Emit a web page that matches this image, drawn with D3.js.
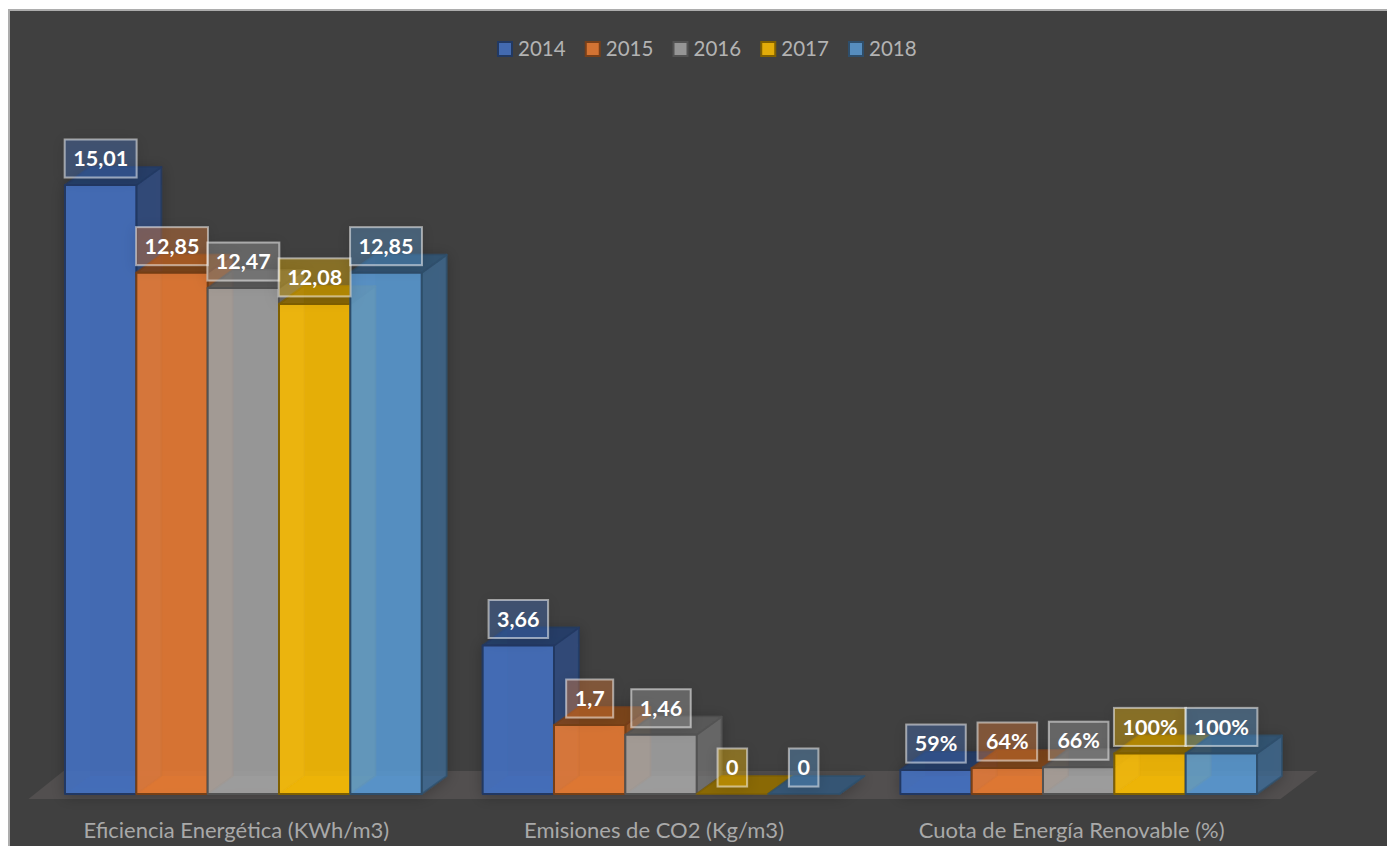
<!DOCTYPE html>
<meta charset="utf-8">
<style>
    html, body { margin: 0; padding: 0; background: #fff; overflow: hidden; }
    text { font-family: Lato, "Open Sans", sans-serif; }
</style>

<script src="https://d3js.org/d3.v7.min.js"></script>

<div id="my_dataviz"></div>

<script>

    // data
    const categories = ["Eficiencia Energética (KWh/m3)", "Emisiones de CO2 (Kg/m3)", "Cuota de Energía Renovable (%)"];
    const years = ["2014", "2015", "2016", "2017", "2018"];
    const eficiencia = [15.01, 12.85, 12.47, 12.08, 12.85];
    const emisiones = [3.66, 1.7, 1.46, 0, 0];
    const cuota = [0.59, 0.64, 0.66, 1, 1];
    const eficienciaLabels = ["15,01", "12,85", "12,47", "12,08", "12,85"];
    const emisionesLabels = ["3,66", "1,7", "1,46", "0", "0"];
    const cuotaLabels = ["59%", "64%", "66%", "100%", "100%"];
    const colors = ["#4472c4", "#ed7d31", "#a5a5a5", "#ffc000", "#5b9bd5"];

    const values = [eficiencia, emisiones, cuota];
    const labels = [eficienciaLabels, emisionesLabels, cuotaLabels];

    var width = 1387, height = 846;
    // oblique depth of the fake 3d bars
    var depthX = 25, depthY = 18;

    var svg = d3.select("#my_dataviz")
        .append("svg")
        .attr("width", width)
        .attr("height", height)
        .style("display", "block");

    var defs = svg.append("defs");
    var shadow = defs.append("filter").attr("id", "soft")
        .attr("x", "-40%").attr("y", "-40%").attr("width", "180%").attr("height", "180%");
    shadow.append("feDropShadow")
        .attr("dx", 0).attr("dy", 2).attr("stdDeviation", 7)
        .attr("flood-color", "#000").attr("flood-opacity", 0.28);

    // chart area
    svg.append("rect")
        .attr("x", 9).attr("y", 10)
        .attr("width", width).attr("height", height)
        .attr("fill", "#404040")
        .attr("stroke", "#adadad")
        .attr("stroke-width", 2);

    var x = d3.scaleBand()
        .domain(categories)
        .range([34.5, 1287.5])
        .paddingInner(0.146)
        .paddingOuter(0.073);

    var xYear = d3.scaleBand()
        .domain(years)
        .range([0, x.bandwidth()]);

    var y = d3.scaleLinear()
        .domain([0, d3.max(eficiencia)])
        .range([794, 185]);

    function shade(c, k) {
        var r = d3.rgb(c);
        return d3.rgb(r.r * k, r.g * k, r.b * k).formatHex();
    }

    var line = d3.line().curve(d3.curveLinearClosed);

    // floor
    svg.append("path")
        .attr("fill", "#524f4f")
        .attr("d", line([
            [x.range()[0] - 6, y(0) + 5],
            [x.range()[0] + 29, y(0) - 23],
            [x.range()[1] + 30, y(0) - 23],
            [x.range()[1] - 7, y(0) + 5]
        ]));

    // bars, left to right so the later ones sit over the earlier side faces
    var bars = svg.append("g").attr("filter", "url(#soft)");
    categories.forEach(function (cat, c) {
        years.forEach(function (yr, s) {
            var x0 = x(cat) + xYear(yr),
                x1 = x0 + xYear.bandwidth(),
                yT = y(values[c][s]),
                yB = y(0),
                base = colors[s],
                edge = shade(base, 0.5);
            var g = bars.append("g")
                .attr("stroke", edge)
                .attr("stroke-width", 2)
                .attr("stroke-linejoin", "round");

            // inside faces, seen through the front
            g.append("path")
                .attr("fill", base).attr("fill-opacity", 0.25).attr("stroke", "none")
                .attr("d", line([[x0, yB], [x0 + depthX, yB - depthY], [x1 + depthX, yB - depthY], [x1, yB]]));
            g.append("path")
                .attr("fill", base).attr("fill-opacity", 0.12).attr("stroke", "none")
                .attr("d", line([[x0, yB], [x0 + depthX, yB - depthY], [x0 + depthX, yT - depthY], [x0, yT]]));

            // side
            g.append("path")
                .attr("fill", shade(base, 0.68)).attr("fill-opacity", 0.8)
                .attr("stroke-opacity", 0.7)
                .attr("d", line([[x1, yB], [x1 + depthX, yB - depthY], [x1 + depthX, yT - depthY], [x1, yT]]));

            // top
            g.append("path")
                .attr("fill", shade(base, 0.55)).attr("fill-opacity", 0.9)
                .attr("stroke-opacity", 0.7)
                .attr("d", line([[x0, yT], [x0 + depthX, yT - depthY], [x1 + depthX, yT - depthY], [x1, yT]]));

            // front
            g.append("rect")
                .attr("x", x0).attr("y", yT)
                .attr("width", x1 - x0).attr("height", yB - yT)
                .attr("fill", base).attr("fill-opacity", 0.85);
        });
    });

    // data labels
    var labelLayer = svg.append("g");
    categories.forEach(function (cat, c) {
        years.forEach(function (yr, s) {
            var cx = x(cat) + xYear(yr) + xYear.bandwidth() / 2,
                bottom = y(values[c][s]) - 7.5,
                boxH = 38;
            var g = labelLayer.append("g");
            var box = g.append("rect");
            var t = g.append("text")
                .attr("x", cx)
                .attr("y", bottom - boxH / 2)
                .attr("dy", "0.36em")
                .attr("text-anchor", "middle")
                .attr("fill", "#fff")
                .attr("font-weight", 700)
                .attr("font-size", 21.5)
                .text(labels[c][s]);
            var w = t.node().getComputedTextLength() + 17;
            box.attr("x", cx - w / 2)
                .attr("y", bottom - boxH)
                .attr("width", w)
                .attr("height", boxH)
                .attr("fill", colors[s])
                .attr("fill-opacity", 0.35)
                .attr("stroke", "#fff")
                .attr("stroke-opacity", 0.5)
                .attr("stroke-width", 2)
                .attr("filter", "url(#soft)");
        });
    });

    // category labels
    var axis = svg.append("g")
        .attr("transform", "translate(-7," + 838 + ")")
        .call(d3.axisBottom(x).tickSize(0).tickPadding(0));
    axis.select(".domain").remove();
    axis.selectAll("text")
        .attr("y", 0)
        .attr("dy", 0)
        .style("font-family", "Lato")
        .style("font-size", "22px")
        .attr("fill", "#a9a9a9");

    // legend
    var legendX = d3.scalePoint()
        .domain(years)
        .range([498, 849]);
    var legend = svg.append("g");
    years.forEach(function (yr, s) {
        legend.append("rect")
            .attr("x", legendX(yr)).attr("y", 42)
            .attr("width", 14).attr("height", 14)
            .attr("fill", colors[s]).attr("fill-opacity", 0.85)
            .attr("stroke", shade(colors[s], 0.5))
            .attr("stroke-width", 2);
        legend.append("text")
            .attr("x", legendX(yr) + 20).attr("y", 55.5)
            .attr("fill", "#b3b3b3")
            .attr("font-size", 20.5)
            .text(yr);
    });

</script>
